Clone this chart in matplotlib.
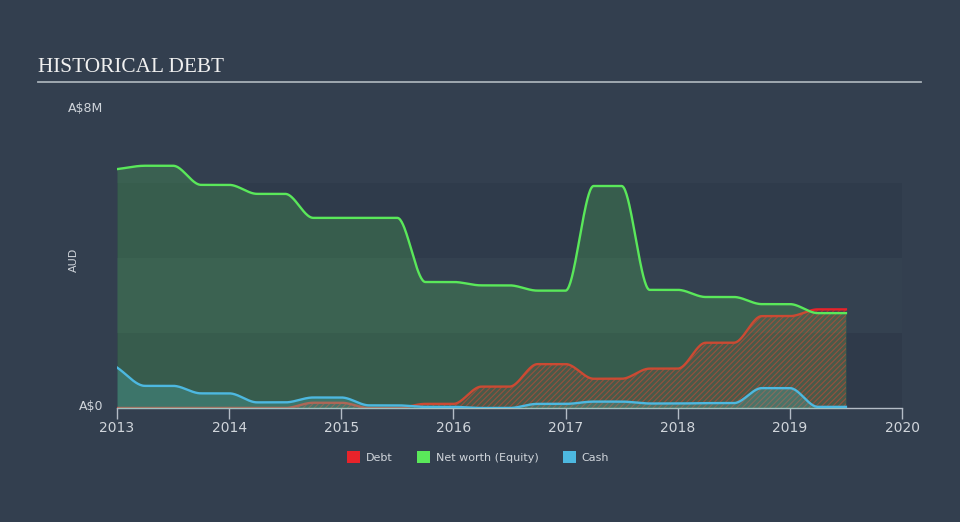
import numpy as np
import matplotlib
matplotlib.use("Agg")
import matplotlib.pyplot as plt
from matplotlib.patches import Patch

# quarterly points, values in A$ millions
dates = [2013.0, 2013.25, 2013.5, 2013.75, 2014.0, 2014.25, 2014.5, 2014.75,
         2015.0, 2015.25, 2015.5, 2015.75, 2016.0, 2016.25, 2016.5, 2016.75,
         2017.0, 2017.25, 2017.5, 2017.75, 2018.0, 2018.25, 2018.5, 2018.75,
         2019.0, 2019.25, 2019.5]
equity = [6.37, 6.46, 6.46, 5.95, 5.95, 5.71, 5.71, 5.07,
          5.07, 5.07, 5.07, 3.36, 3.36, 3.27, 3.27, 3.13,
          3.13, 5.92, 5.92, 3.15, 3.15, 2.96, 2.96, 2.77,
          2.77, 2.53, 2.53]
debt = [0.0, 0.0, 0.0, 0.0, 0.0, 0.0, 0.0, 0.14,
        0.14, 0.0, 0.0, 0.11, 0.11, 0.57, 0.57, 1.17,
        1.17, 0.78, 0.78, 1.05, 1.05, 1.74, 1.74, 2.45,
        2.45, 2.63, 2.63]
cash = [1.08, 0.59, 0.59, 0.39, 0.39, 0.15, 0.15, 0.28,
        0.28, 0.07, 0.07, 0.03, 0.03, 0.0, 0.0, 0.11,
        0.11, 0.17, 0.17, 0.12, 0.12, 0.13, 0.13, 0.53,
        0.53, 0.03, 0.03]
year_ticks = [2013, 2014, 2015, 2016, 2017, 2018, 2019, 2020]

BG = "#333f4f"
C_DEBT = "#e8232a"
C_EQ = "#5ae85a"
C_CASH = "#4db8e0"
TXT = "#d0d5db"


def monotone(x, y, n=40):
    # monotone cubic (Fritsch-Carlson), same shape as d3 curveMonotoneX
    x = np.asarray(x, float); y = np.asarray(y, float)
    h = np.diff(x); d = np.diff(y) / h
    m = np.zeros_like(y)
    for i in range(1, len(y) - 1):
        if d[i - 1] * d[i] > 0:
            m[i] = 3 * (h[i - 1] + h[i]) / ((2 * h[i] + h[i - 1]) / d[i - 1] + (h[i] + 2 * h[i - 1]) / d[i])
    m[0] = d[0]; m[-1] = d[-1]
    xs, ys = [], []
    for i in range(len(h)):
        t = np.linspace(0, 1, n, endpoint=(i == len(h) - 1))
        h00 = 2 * t**3 - 3 * t**2 + 1; h10 = t**3 - 2 * t**2 + t
        h01 = -2 * t**3 + 3 * t**2; h11 = t**3 - t**2
        xs.append(x[i] + t * h[i])
        ys.append(h00 * y[i] + h10 * h[i] * m[i] + h01 * y[i + 1] + h11 * h[i] * m[i + 1])
    return np.concatenate(xs), np.concatenate(ys)


plt.rcParams["hatch.linewidth"] = 0.8
fig = plt.figure(figsize=(9.6, 5.22), dpi=100, facecolor=BG)
ax = fig.add_axes([117 / 960, (522 - 408) / 522, (902 - 117) / 960, 300 / 522])
ax.set_facecolor(BG)
ax.set_xlim(2013, 2020)
ax.set_ylim(0, 8)

# background bands
for lo, hi, c in [(0, 2, "#2f3a4a"), (2, 4, "#344150"), (4, 6, "#2f3b4b")]:
    ax.axhspan(lo, hi, color=c, lw=0, zorder=0)

xd, yd = monotone(dates, debt)
ax.fill_between(xd, 0, yd, facecolor=C_DEBT, alpha=0.12, lw=0, zorder=1)
ax.fill_between(xd, 0, yd, facecolor="none", edgecolor=C_DEBT, hatch="//////", lw=0, alpha=0.6, zorder=1)
ax.plot(xd, yd, color=C_DEBT, lw=1.7, zorder=2)

xc, yc = monotone(dates, cash)
ax.fill_between(xc, 0, yc, color=C_CASH, alpha=0.25, lw=0, zorder=3)

xe, ye = monotone(dates, equity)
ax.fill_between(xe, 0, ye, color=C_EQ, alpha=0.2, lw=0, zorder=4)
ax.plot(xe, ye, color=C_EQ, lw=1.7, zorder=5)
ax.plot(xc, yc, color=C_CASH, lw=1.7, zorder=6)

for s in ["top", "right", "left"]:
    ax.spines[s].set_visible(False)
ax.spines["bottom"].set_color("#b4bcc6")
ax.spines["bottom"].set_linewidth(1)
ax.set_xticks(year_ticks)
ax.set_xticklabels([str(y) for y in year_ticks])
ax.tick_params(axis="x", colors="#b4bcc6", length=8, width=1, labelcolor=TXT, labelsize=10, pad=1)
ax.set_yticks([])

fig.text(103 / 960, 1 - 108 / 522, "A$8M", ha="right", va="center", color=TXT, fontsize=9)
fig.text(103 / 960, 1 - 407 / 522, "A$0", ha="right", va="center", color=TXT, fontsize=9)
fig.text(74 / 960, 1 - 260 / 522, "AUD", ha="center", va="center", color=TXT, fontsize=8, rotation=90)

fig.text(38 / 960, 1 - 67 / 522, "HISTORICAL DEBT", ha="left", va="center", color="#f0f0f0",
         fontsize=15.3, family="Liberation Serif")
fig.add_artist(plt.Line2D([38 / 960, 921 / 960], [1 - 82 / 522] * 2, color="#a8b0b8", lw=1.3))

handles = [Patch(facecolor=C_DEBT, label="Debt"),
           Patch(facecolor=C_EQ, label="Net worth (Equity)"),
           Patch(facecolor=C_CASH, label="Cash")]
fig.legend(handles=handles, loc="center", bbox_to_anchor=(478 / 960, 1 - 457 / 522), ncol=3,
           frameon=False, fontsize=8, labelcolor=TXT, handlelength=1.2, handleheight=1.2,
           handletextpad=0.5, columnspacing=2.2)

fig.savefig("out.png", dpi=100, facecolor=BG)
